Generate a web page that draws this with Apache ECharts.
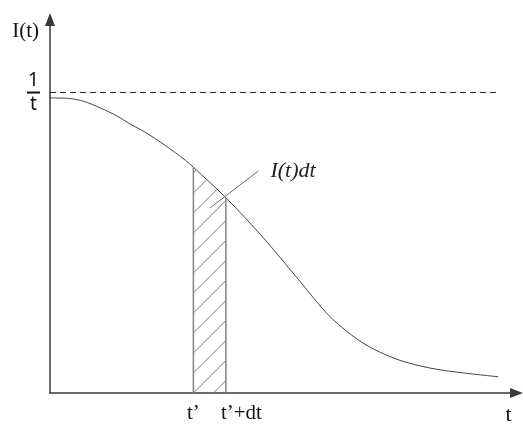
<!DOCTYPE html>
<html>
<head>
<meta charset="utf-8">
<script src="https://cdn.jsdelivr.net/npm/echarts@6/dist/echarts.min.js"></script>
<style>
  html, body { margin: 0; padding: 0; background: #fff; }
  #chart { width: 523px; height: 426px; }
</style>
</head>
<body>
<div id="chart"></div>
<script>
// Intensity curve I(t) sampled along t
const tValues   = [0, 0.42, 0.70, 1.05, 1.40, 1.68, 1.99, 2.41, 2.83, 3.00, 3.68, 4.46, 5.16, 5.86, 6.55, 7.26, 7.95, 8.64, 9.38];
const intensity = [0.982, 0.980, 0.971, 0.949, 0.922, 0.895, 0.868, 0.824, 0.775, 0.751, 0.650, 0.517, 0.385, 0.254, 0.166, 0.112, 0.083, 0.067, 0.054];

// Interval [t', t'+dt] shaded under the curve
const tPrime = 3.00;
const dt = 0.68;

// Reference level 1/t̄ (dashed) and where the dashed line stops
const meanLevel = 1.0;
const meanLineEnd = 9.36;

// Text
const xTickLabels = ['t’', 't’+dt'];
const xAxisName = 't';
const yAxisName = 'I(t)';
const areaLabel = 'I(t)dt';

const SERIF = '"Liberation Serif", "Times New Roman", serif';
const SANS = '"Noto Sans", "Open Sans", sans-serif';

const curveData = tValues.map((t, i) => [t, intensity[i]]);
const valueAt = t => intensity[tValues.indexOf(t)];
const stripTop0 = valueAt(tPrime);
const stripTop1 = valueAt(Math.round((tPrime + dt) * 100) / 100);

// Leader line from the strip to the I(t)dt label
const leaderFrom = [3.35, 0.616];
const leaderTo = [4.36, 0.739];

const chart = echarts.init(document.getElementById('chart'), null, { renderer: 'canvas' });

const axisLineStyle = { color: '#3a3a3a', width: 1.5 };

const option = {
  animation: false,
  backgroundColor: '#fff',
  grid: { left: 50, right: 6.5, top: 19.5, bottom: 29 },
  xAxis: {
    type: 'value',
    min: 0,
    max: 9.76,
    name: xAxisName,
    nameLocation: 'end',
    nameGap: -8,
    nameTextStyle: {
      fontFamily: SERIF, fontSize: 22, color: '#111',
      align: 'center', verticalAlign: 'top', padding: [11, 0, 0, 0]
    },
    axisLine: { show: true, symbol: ['none', 'triangle'], symbolSize: [10, 13], lineStyle: axisLineStyle },
    axisTick: { show: false },
    splitLine: { show: false },
    axisLabel: {
      customValues: [tPrime, tPrime + dt],
      margin: 10,
      fontFamily: SERIF,
      fontSize: 21,
      color: '#111',
      formatter: v => (Math.abs(v - tPrime) < 1e-6 ? xTickLabels[0] : '{b|' + xTickLabels[1] + '}'),
      rich: { b: { fontFamily: SERIF, fontSize: 21, color: '#111', padding: [0, 0, 0, 31] } }
    }
  },
  yAxis: {
    type: 'value',
    min: 0,
    max: 1.243,
    name: yAxisName,
    nameLocation: 'end',
    nameGap: -11.5,
    nameTextStyle: {
      fontFamily: SERIF, fontSize: 21, color: '#111',
      align: 'right', verticalAlign: 'middle', padding: [0, 11, 0, 0]
    },
    axisLine: { show: true, symbol: ['none', 'triangle'], symbolSize: [10, 13], lineStyle: axisLineStyle },
    axisTick: { show: false },
    splitLine: { show: false },
    axisLabel: {
      customValues: [meanLevel],
      margin: 16.5,
      align: 'center',
      formatter: () => '{n|1}\n{bar| }\n{d|t}',
      rich: {
        n: { fontFamily: SANS, fontSize: 19, lineHeight: 20, color: '#111', align: 'center' },
        bar: { width: 13, height: 2, lineHeight: 4, backgroundColor: '#111', align: 'center' },
        d: { fontFamily: SANS, fontSize: 19, lineHeight: 20, color: '#111', align: 'center' }
      }
    }
  },
  series: [
    {
      type: 'line',
      data: curveData,
      smooth: 0.3,
      showSymbol: false,
      lineStyle: { color: '#444', width: 1 },
      z: 3
    },
    {
      type: 'line',
      data: [[0, meanLevel], [meanLineEnd, meanLevel]],
      showSymbol: false,
      lineStyle: { color: '#222', width: 1, type: [6, 4] },
      z: 2
    },
    {
      type: 'custom',
      clip: false,
      data: [[tPrime, stripTop0]],
      z: 4,
      renderItem: function (params, api) {
        const bl = api.coord([tPrime, 0]);
        const br = api.coord([tPrime + dt, 0]);
        const tl = api.coord([tPrime, stripTop0]);
        const tr = api.coord([tPrime + dt, stripTop1]);
        const x0 = bl[0], x1 = br[0], w = x1 - x0;
        const yb = bl[1], yt0 = tl[1], yt1 = tr[1];
        const m = (yt1 - yt0) / w;
        const spacing = 20;
        const children = [];
        // diagonal hatching clipped to the strip under the curve
        for (let k = -40; k <= 5; k++) {
          const c = yb + k * spacing;
          const lo = Math.max(0, c - yb);
          const hi = Math.min(w, (c - yt0) / (1 + m));
          if (hi > lo + 0.5) {
            children.push({
              type: 'line',
              shape: { x1: x0 + lo, y1: c - lo, x2: x0 + hi, y2: c - hi },
              style: { stroke: '#7a7a7a', lineWidth: 1 }
            });
          }
        }
        // strip edges
        children.push({
          type: 'line', shape: { x1: x0, y1: yb, x2: x0, y2: yt0 },
          style: { stroke: '#808080', lineWidth: 1.5 }
        });
        children.push({
          type: 'line', shape: { x1: x1, y1: yb, x2: x1, y2: yt1 },
          style: { stroke: '#808080', lineWidth: 1.5 }
        });
        // leader and label
        const a = api.coord(leaderFrom);
        const b = api.coord(leaderTo);
        children.push({
          type: 'line', shape: { x1: a[0], y1: a[1], x2: b[0], y2: b[1] },
          style: { stroke: '#666', lineWidth: 1 }
        });
        children.push({
          type: 'text',
          style: {
            text: areaLabel, x: b[0] + 12, y: b[1],
            font: 'italic 22px ' + SERIF, fill: '#222',
            align: 'left', verticalAlign: 'middle'
          }
        });
        return { type: 'group', children: children };
      }
    }
  ]
};

chart.setOption(option);
</script>
</body>
</html>
